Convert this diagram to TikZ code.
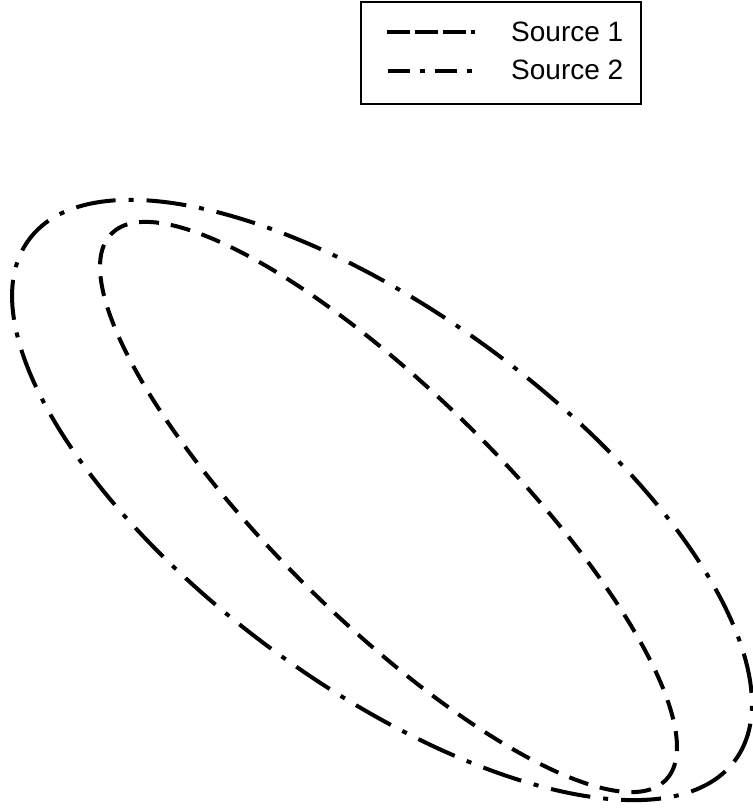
\documentclass[tikz,border=0pt]{standalone}
\usepackage{fontspec}
\setmainfont{Liberation Sans}
\begin{document}
\begin{tikzpicture}[x=1pt,y=1pt,
  srcone/.style={line width=4pt,dash pattern=on 20pt off 12pt},
  srctwo/.style={line width=4pt,dash pattern=on 40pt off 13pt on 5pt off 13pt},
  legone/.style={line width=4.5pt,dash pattern=on 23pt off 5pt},
  legtwo/.style={line width=4.5pt,dash pattern=on 22pt off 10pt on 5pt off 10pt},
  legtext/.style={anchor=west,inner sep=0pt,font=\fontsize{28}{34}\selectfont}]
\useasboundingbox (0,0) rectangle (752,810);
% ellipses
\draw[srctwo,rotate around={-36.4:(382,310)}] (382,310) ellipse [x radius=438.7, y radius=185.5];
\draw[srcone,rotate around={-44.6:(388.5,303)}] (388.5,303) ellipse [x radius=389.2, y radius=113.9];
% legend
\node[draw,line width=2pt,minimum width=280pt,minimum height=102pt,inner sep=0pt] (legbox) at (501,757) {};
\coordinate (l1a) at (387,778);
\coordinate (l1b) at (475,778);
\coordinate (l2a) at (388,739);
\coordinate (l2b) at (475,739);
\draw[legone] (l1a) -- (l1b);
\draw[legtwo] (l2a) -- (l2b);
\node[legtext] (t1) at (511,778) {Source 1};
\node[legtext] (t2) at (511,740) {Source 2};
\end{tikzpicture}
\end{document}
